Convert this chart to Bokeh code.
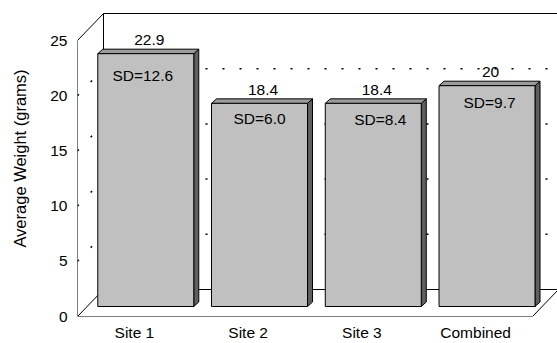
from bokeh.plotting import figure
from bokeh.models import FixedTicker, Range1d
from bokeh.core.properties import value
from bokeh.embed import file_html
from bokeh.resources import INLINE

# ---- data -------------------------------------------------------------
categories = ["Site 1", "Site 2", "Site 3", "Combined"]
mean_weight = [22.9, 18.4, 18.4, 20.0]
mean_labels = ["22.9", "18.4", "18.4", "20"]
sd_weight = [12.6, 6.0, 8.4, 9.7]
y_ticks = [0, 5, 10, 15, 20, 25]

# ---- layout (pixels) --------------------------------------------------
W, H = 557, 343
LEFT, BOTTOM = 77, 27
PX_X = 113.75          # pixels per category slot
PX_Y = 11.04           # pixels per gram
FONT = "Liberation Sans"
FS = "15.5px"

DX = 26 / PX_X         # depth of the 3-D box
DY = 27 / PX_Y
OX = 11.4 / PX_X       # bars sit part-way into the box
OY = 10 / PX_Y
BW = 96 / PX_X         # bar width
BDX = 5 / PX_X         # bar depth
BDY = 4.5 / PX_Y

n = len(categories)
ytop = y_ticks[-1]

p = figure(width=W, height=H, output_backend="svg", toolbar_location=None,
           x_range=Range1d(0, (W - LEFT) / PX_X),
           y_range=Range1d(0, (H - BOTTOM) / PX_Y),
           min_border_left=LEFT, min_border_right=0,
           min_border_top=0, min_border_bottom=BOTTOM)
p.grid.visible = False
p.outline_line_color = None
p.background_fill_color = "white"
p.border_fill_color = "white"

# ---- axes -------------------------------------------------------------
p.yaxis.ticker = FixedTicker(ticks=y_ticks)
p.yaxis.axis_line_color = None
p.yaxis.major_tick_line_color = None
p.yaxis.minor_tick_line_color = None
p.yaxis.major_tick_out = 0
p.yaxis.major_tick_in = 0
p.yaxis.major_label_standoff = 10
p.yaxis.major_label_text_font = FONT
p.yaxis.major_label_text_font_size = FS
p.yaxis.major_label_text_color = "black"
p.yaxis.axis_label = "Average Weight (grams)"
p.yaxis.axis_label_text_font = FONT
p.yaxis.axis_label_text_font_size = "16.5px"
p.yaxis.axis_label_text_font_style = "normal"
p.yaxis.axis_label_text_color = "black"
p.yaxis.axis_label_standoff = 18

centers = [i + 0.5 for i in range(n)]
p.xaxis.ticker = FixedTicker(ticks=centers)
p.xaxis.major_label_overrides = {c: name for c, name in zip(centers, categories)}
p.xaxis.axis_line_color = None
p.xaxis.major_tick_line_color = None
p.xaxis.minor_tick_line_color = None
p.xaxis.major_tick_out = 0
p.xaxis.major_tick_in = 0
p.xaxis.major_label_standoff = 7
p.xaxis.major_label_text_font = FONT
p.xaxis.major_label_text_font_size = FS
p.xaxis.major_label_text_color = "black"

# ---- 3-D box: walls, floor and gridlines -----------------------------
grid_vals = [v for v in y_ticks if 0 < v < ytop]
p.multi_line(xs=[[DX, n + DX] for _ in grid_vals],
             ys=[[v + DY, v + DY] for v in grid_vals],
             line_color="black", line_width=1.5, line_dash="2 15")
p.multi_line(xs=[[0, DX] for _ in grid_vals],
             ys=[[v, v + DY] for v in grid_vals],
             line_color="black", line_width=1.5, line_dash="2 17")
p.multi_line(xs=[[DX, n + DX], [DX, DX], [0, DX], [0, 0]],
             ys=[[ytop + DY, ytop + DY], [DY, ytop + DY], [ytop, ytop + DY], [0, ytop]],
             line_color="black", line_width=1)
p.patch(x=[0, n, n + DX, DX], y=[0, 0, DY, DY],
        fill_color="white", line_color="black", line_width=1)

# ---- bars -------------------------------------------------------------
lefts = [c + OX - BW / 2 for c in centers]
rights = [l + BW for l in lefts]
tops = [v + OY for v in mean_weight]

p.patches(xs=[[r, r + BDX, r + BDX, r] for r in rights],
          ys=[[OY, OY + BDY, t + BDY, t] for t in tops],
          fill_color="#5f5f5f", line_color="black", line_width=1)
p.patches(xs=[[l, r, r + BDX, l + BDX] for l, r in zip(lefts, rights)],
          ys=[[t, t, t + BDY, t + BDY] for t in tops],
          fill_color="#9c9c9c", line_color="black", line_width=1)
p.quad(left=lefts, right=rights, bottom=OY, top=tops,
       fill_color="#c0c0c0", line_color="black", line_width=1)

# ---- labels -----------------------------------------------------------
val_x = [c + OX + 3.5 / PX_X for c in centers]
val_y = [t + 13.5 / PX_Y for t in tops]
p.text(x=val_x, y=val_y, text=mean_labels,
       text_font=value(FONT), text_font_size=FS, text_color="black",
       text_align="center", text_baseline="middle")

sd_shift_px = [-3, 0, 7, 2.5]
sd_drop_px = [22, 15, 16, 17]
sd_x = [c + OX + s / PX_X for c, s in zip(centers, sd_shift_px)]
sd_y = [t - d / PX_Y for t, d in zip(tops, sd_drop_px)]
p.text(x=sd_x, y=sd_y, text=[f"SD={s:.1f}" for s in sd_weight],
       text_font=value(FONT), text_font_size=FS, text_color="black",
       text_align="center", text_baseline="middle")

open("out.html", "w").write(file_html(p, INLINE))
